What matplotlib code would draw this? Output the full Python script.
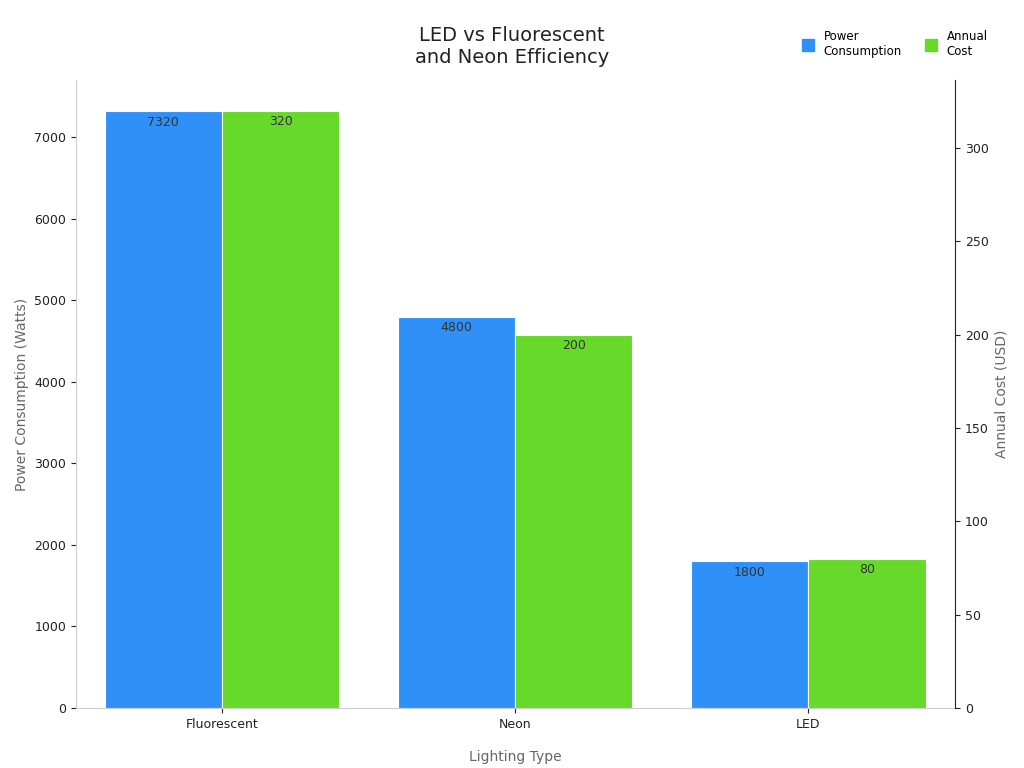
import matplotlib
matplotlib.use("Agg")
import matplotlib.pyplot as plt
import numpy as np

categories = ["Fluorescent", "Neon", "LED"]
power_watts = [7320, 4800, 1800]
annual_cost = [320, 200, 80]

blue = "#2f91f8"
green = "#66d92a"
grey = "#666666"

fig = plt.figure(figsize=(10.24, 7.68), dpi=100)
ax = fig.add_axes([76/1024, 60/768, 879/1024, 628/768])
ax2 = ax.twinx()

x = np.arange(len(categories))
w = 0.4
b1 = ax.bar(x - w/2, power_watts, w, color=blue, edgecolor="white", linewidth=0.8)
b2 = ax2.bar(x + w/2, annual_cost, w, color=green, edgecolor="white", linewidth=0.8)

for r, v in zip(b1, power_watts):
    ax.text(r.get_x() + r.get_width()/2, v - 60, str(v), ha="center", va="top", fontsize=9, color="#333333")
for r, v in zip(b2, annual_cost):
    ax2.text(r.get_x() + r.get_width()/2, v - 2.5, str(v), ha="center", va="top", fontsize=9, color="#333333")

ax.set_xlim(-0.498, 2.50)
ax.set_ylim(0, 7700)
ax2.set_ylim(0, 336.4)
ax.set_xticks(x)
ax.set_xticklabels(categories)
ax.set_yticks(range(0, 8000, 1000))
ax2.set_yticks(range(0, 350, 50))

ax.set_xlabel("Lighting Type", fontsize=10, color=grey, labelpad=14)
ax.set_ylabel("Power Consumption (Watts)", fontsize=10, color=grey)
ax2.set_ylabel("Annual Cost (USD)", fontsize=10, color=grey)

for a in (ax, ax2):
    a.spines["top"].set_visible(False)
    a.tick_params(labelsize=9, colors="#222222")
ax.spines["left"].set_color("#cccccc")
ax.spines["bottom"].set_color("#cccccc")
ax.spines["right"].set_visible(False)
ax2.spines["left"].set_visible(False)
ax2.spines["bottom"].set_visible(False)
ax2.spines["right"].set_color("#222222")

fig.text(0.5, 0.94, "LED vs Fluorescent\nand Neon Efficiency", ha="center", va="center", fontsize=14, color="#222222")

h1 = plt.Line2D([], [], marker="s", linestyle="", color=blue, markersize=8)
h2 = plt.Line2D([], [], marker="s", linestyle="", color=green, markersize=8)
fig.legend([h1, h2], ["Power\nConsumption", "Annual\nCost"], loc="upper right",
           bbox_to_anchor=(0.975, 0.975), ncol=2, frameon=False, fontsize=8.5,
           handletextpad=0.3, columnspacing=1.5)

fig.savefig("out.png", dpi=100)
